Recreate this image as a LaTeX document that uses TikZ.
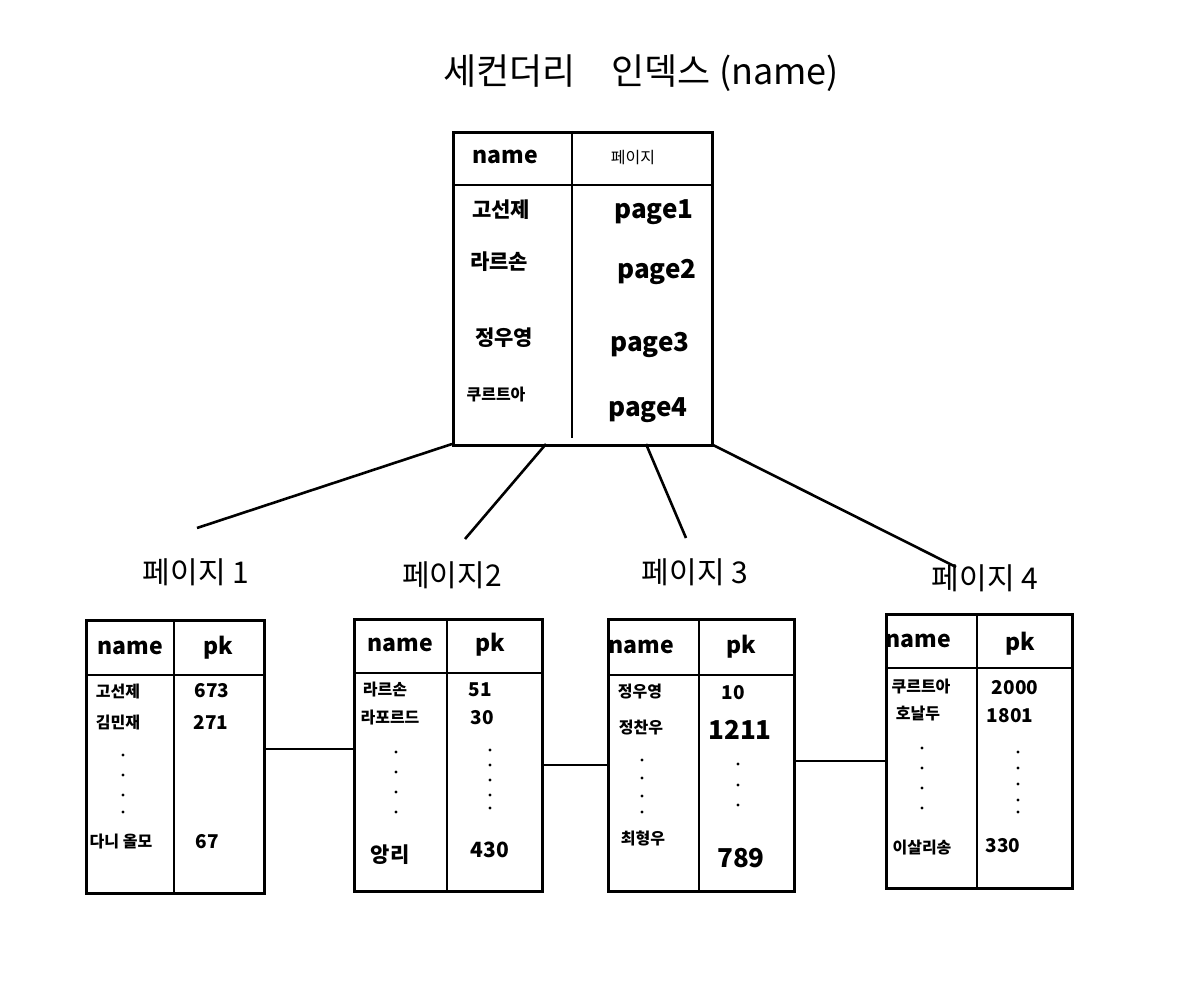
\documentclass[tikz,border=0pt]{standalone}
\usepackage{fontspec}
\setmainfont{Noto Sans CJK KR}
\begin{document}
\begin{tikzpicture}[x=1pt,y=-1pt,line width=2.6pt,
  tbl/.style={draw,rectangle,inner sep=0pt,anchor=north west},
  ttl/.style={font=\fontsize{36}{40}\selectfont},
  plabel/.style={font=\fontsize{30}{34}\selectfont},
  hdr/.style={font=\fontsize{23}{25}\selectfont\bfseries},
  big/.style={font=\fontsize{21}{24}\selectfont\bfseries},
  pg/.style={font=\fontsize{26}{28}\selectfont\bfseries},
  sm/.style={font=\fontsize{16}{18}\selectfont\bfseries},
  ksm/.style={font=\fontsize{16}{18}\selectfont},
  num/.style={font=\fontsize{19}{22}\selectfont\bfseries}]
\fill[white] (0,0) rectangle (1183,1000);
\useasboundingbox (0,0) rectangle (1183,1000);

% title
\node[ttl] (title) at (641,73) {세컨더리\quad 인덱스 (name)};

% top table
\node[tbl,minimum width=259pt,minimum height=313pt] (top) at (452,131) {};
\draw (top.north west |- 0,185) -- (top.north east |- 0,185);
\draw (572,131) -- (572,438);
\node[hdr] (th1) at (505,157) {name};
\node[ksm] (th2) at (633,158) {페이지};
\node[big] (tn1) at (501,210) {고선제};
\node[big] (tn2) at (499,262) {라르손};
\node[big] (tn3) at (504,338) {정우영};
\node[sm]  (tn4) at (496,395) {쿠르트아};
\node[pg] (tp1) at (654,212) {page1};
\node[pg] (tp2) at (657,272) {page2};
\node[pg] (tp3) at (650,345) {page3};
\node[pg] (tp4) at (648,410) {page4};

% branch connectors
\coordinate (b1) at (452,444);
\coordinate (b2) at (546,444);
\coordinate (b3) at (646,444);
\coordinate (b4) at (711,444);
\coordinate (e1) at (197,528);
\coordinate (e2) at (465,539);
\coordinate (e3) at (686,538);
\coordinate (e4) at (956,567);
\draw (b1) -- (e1);
\draw (b2) -- (e2);
\draw (b3) -- (e3);
\draw (b4) -- (e4);

% page labels
\node[plabel] (l1) at (196,572) {페이지 1};
\node[plabel] (l2) at (452,575) {페이지2};
\node[plabel] (l3) at (695,572) {페이지 3};
\node[plabel] (l4) at (985,578) {페이지 4};

% page 1
\node[tbl,minimum width=178pt,minimum height=273pt] (p1) at (85,619) {};
\draw (p1.north west |- 0,675) -- (p1.north east |- 0,675);
\draw (174,619) -- (174,892);
\node[hdr] (p1h1) at (130,648) {name};
\node[hdr] (p1h2) at (218,648) {pk};
\node[sm] (p1n1) at (118,691) {고선제};
\node[sm] (p1n2) at (118,722) {김민재};
\node[sm] (p1n3) at (121,842) {다니 올모};
\node[num] (p1k1) at (212,691) {673};
\node[num] (p1k2) at (211,722) {271};
\node[num] (p1k3) at (207,842) {67};
\foreach \yy in {755,775,795,812} \fill (123,\yy) circle[radius=1.6pt];

% page 2
\node[tbl,minimum width=188pt,minimum height=272pt] (p2) at (353,618) {};
\draw (p2.north west |- 0,673) -- (p2.north east |- 0,673);
\draw (447,618) -- (447,890);
\node[hdr] (p2h1) at (400,645) {name};
\node[hdr] (p2h2) at (490,645) {pk};
\node[sm] (p2n1) at (385,690) {라르손};
\node[sm] (p2n2) at (390,718) {라포르드};
\node[big] (p2n3) at (390,855) {앙리};
\node[num] (p2k1) at (480,690) {51};
\node[num] (p2k2) at (482,718) {30};
\node[big] (p2k3) at (490,850) {430};
\foreach \yy in {752,772,792,812} \fill (396,\yy) circle[radius=1.6pt];
\foreach \yy in {750,765,780,795,808} \fill (490,\yy) circle[radius=1.6pt];

% page 3
\node[tbl,minimum width=186pt,minimum height=272pt] (p3) at (607,618) {};
\draw (p3.north west |- 0,675) -- (p3.north east |- 0,675);
\draw (699,618) -- (699,890);
\node[hdr] (p3h1) at (641,647) {name};
\node[hdr] (p3h2) at (741,647) {pk};
\node[sm] (p3n1) at (640,692) {정우영};
\node[sm] (p3n2) at (641,728) {정찬우};
\node[sm] (p3n3) at (643,838) {최형우};
\node[num] (p3k1) at (733,693) {10};
\node[pg] (p3k2) at (740,730) {1211};
\node[pg] (p3k3) at (741,858) {789};
\foreach \yy in {760,778,796,812} \fill (642,\yy) circle[radius=1.6pt];
\foreach \yy in {764,785,805} \fill (738,\yy) circle[radius=1.6pt];

% page 4
\node[tbl,minimum width=186pt,minimum height=274pt] (p4) at (885,613) {};
\draw (p4.north west |- 0,668) -- (p4.north east |- 0,668);
\draw (977,613) -- (977,887);
\node[hdr] (p4h1) at (918,641) {name};
\node[hdr] (p4h2) at (1020,644) {pk};
\node[sm] (p4n1) at (921,687) {쿠르트아};
\node[sm] (p4n2) at (918,714) {호날두};
\node[sm] (p4n3) at (922,848) {이살리송};
\node[num] (p4k1) at (1015,688) {2000};
\node[num] (p4k2) at (1010,716) {1801};
\node[num] (p4k3) at (1003,846) {330};
\foreach \yy in {748,768,788,808} \fill (922,\yy) circle[radius=1.6pt];
\foreach \yy in {752,768,784,800,812} \fill (1018,\yy) circle[radius=1.6pt];

% sibling links
\draw (p1.east |- 0,749) -- (p2.west |- 0,749);
\draw (p2.east |- 0,765) -- (p3.west |- 0,765);
\draw (p3.east |- 0,761) -- (p4.west |- 0,761);
\end{tikzpicture}
\end{document}
